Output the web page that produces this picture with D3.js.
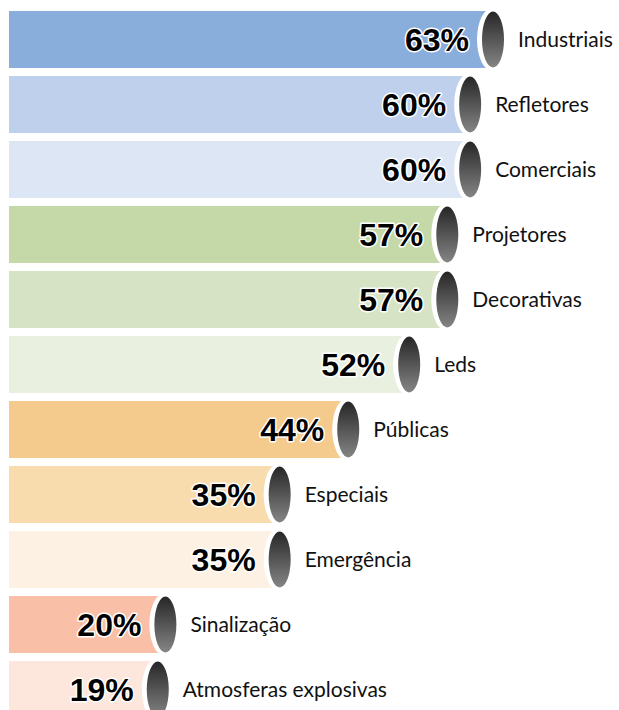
<!doctype html>
<html lang="pt">
    <head>
        <meta charset="UTF-8">
        <title>Produtos</title>
        <style>
            body { margin: 0; background: #fff; }
            .pct { font-family: "Liberation Sans", Arial, sans-serif; font-weight: bold; font-size: 32px;
                   fill: #000; stroke: #fff; stroke-width: 3px; paint-order: stroke; stroke-linejoin: round; }
            .cat { font-family: Lato, "Open Sans", sans-serif; font-size: 21px; fill: #111; }
        </style>
    </head>
    <body>
        <script src="https://d3js.org/d3.v7.min.js"></script>
        <script>
            var categories = ["Industriais", "Refletores", "Comerciais", "Projetores", "Decorativas",
                              "Leds", "Públicas", "Especiais", "Emergência", "Sinalização", "Atmosferas explosivas"];
            var values = [63, 60, 60, 57, 57, 52, 44, 35, 35, 20, 19];
            var colors = ["#8aaedc", "#bfd0ec", "#dde6f5", "#c4d8a8", "#d6e3c5", "#e9f0e0",
                          "#f5ca8d", "#f8dcae", "#fdf1e3", "#f9c0a7", "#fde6dc"];

            var width = 619,
                height = 710;

            var svg = d3.select("body").append("svg")
                .attr("width", width)
                .attr("height", height);

            var grad = svg.append("defs").append("linearGradient")
                .attr("id", "bulb")
                .attr("x1", 0).attr("y1", 0).attr("x2", 0).attr("y2", 1);
            grad.append("stop").attr("offset", "0%").attr("stop-color", "#262626");
            grad.append("stop").attr("offset", "100%").attr("stop-color", "#858585");

            var x = d3.scaleLinear()
                .domain([0, 63])
                .range([13, 493]);

            var y = d3.scaleBand()
                .domain(categories)
                .range([11, 718])
                .paddingInner(8 / 65);

            var rows = svg.selectAll("g.row")
                .data(categories)
                .enter()
                .append("g")
                    .attr("class", "row")
                    .attr("transform", function(d) { return "translate(0," + y(d) + ")"; });

            var bh = y.bandwidth();

            // bar body
            rows.append("rect")
                .attr("x", 9)
                .attr("y", 0)
                .attr("width", function(d, i) { return x(values[i]) - 9; })
                .attr("height", bh)
                .attr("fill", function(d, i) { return colors[i]; });

            // white rim of the end
            rows.append("ellipse")
                .attr("cx", function(d, i) { return x(values[i]); })
                .attr("cy", bh / 2)
                .attr("rx", 16)
                .attr("ry", 32)
                .attr("fill", "#fff");

            // dark end
            rows.append("ellipse")
                .attr("cx", function(d, i) { return x(values[i]); })
                .attr("cy", bh / 2)
                .attr("rx", 11)
                .attr("ry", 28)
                .attr("fill", "url(#bulb)");

            rows.append("text")
                .attr("class", "pct")
                .attr("x", function(d, i) { return x(values[i]) - 24; })
                .attr("y", bh / 2 + 11)
                .attr("text-anchor", "end")
                .text(function(d, i) { return values[i] + "%"; });

            rows.append("text")
                .attr("class", "cat")
                .attr("x", function(d, i) { return x(values[i]) + 25; })
                .attr("y", bh / 2)
                .attr("dy", "0.35em")
                .text(function(d) { return d; });
        </script>
    </body>
</html>
